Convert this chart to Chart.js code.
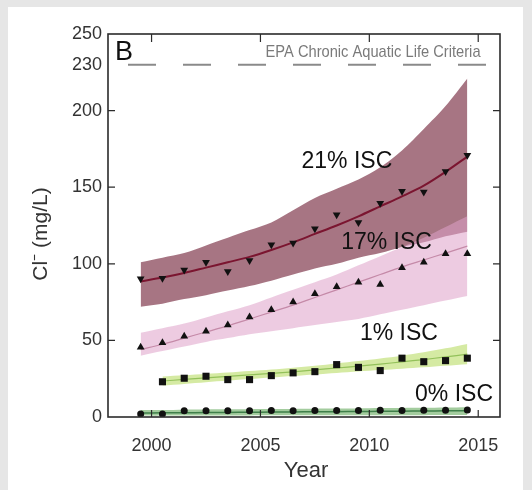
<!DOCTYPE html>
<html lang="en">
<head>
<meta charset="UTF-8">
<title>Cl- trends by ISC</title>
<script src="https://cdn.jsdelivr.net/npm/chart.js"></script>
<style>
  html, body { margin: 0; padding: 0; background: #e6e6e6; }
  #panel { position: absolute; left: 8px; top: 7px; width: 515px; height: 483px; background: #fff; }
  canvas { display: block; }
</style>
</head>
<body>
<div id="panel"><canvas id="graphique" width="515" height="483"></canvas></div>
<script>
// years of the samples
const years = [1999.5, 2000.5, 2001.5, 2002.5, 2003.5, 2004.5, 2005.5, 2006.5,
               2007.5, 2008.5, 2009.5, 2010.5, 2011.5, 2012.5, 2013.5, 2014.5];
const years1 = [2000.5, 2001.5, 2002.5, 2003.5, 2004.5, 2005.5, 2006.5,
                2007.5, 2008.5, 2009.5, 2010.5, 2011.5, 2012.5, 2013.5, 2014.5];

// 21% ISC
const isc21 = [90.2, 90.6, 96, 101, 95, 102.2, 112.4, 113.5, 122.9, 132, 127, 139.6, 147.3, 146.8, 160.3, 170.8];
const fit21 = [88.5, 91, 94, 97.5, 101, 104.5, 109, 114, 119.5, 125, 131, 137.5, 144, 151, 160, 170];
const hi21  = [101, 104, 107, 112, 117, 122, 127, 135, 143, 149, 155, 163, 174, 188, 203, 221];
const lo21  = [72, 74, 77, 79.5, 82.5, 85.5, 89, 93, 97, 100, 104, 107, 111, 114, 118, 121];

// 17% ISC
const isc17 = [45.5, 48.4, 52.7, 56, 60, 65.3, 70, 75, 80.4, 85, 88, 86.5, 97.4, 101, 106.5, 106.5];
const fit17 = [44, 47.5, 51.5, 55.5, 59.5, 64, 68.5, 73, 78, 83, 88, 93, 98, 102.5, 107, 111.5];
const hi17  = [55, 58, 61, 65, 69, 73, 78, 83, 88, 93, 99, 105, 111, 117, 124, 131];
const lo17  = [40, 43, 46, 49, 51.5, 54, 56, 58, 60, 62, 64, 67, 70, 73, 76, 79];

// 1% ISC
const isc1 = [23, 25.3, 26.6, 24.4, 24.4, 27, 28.8, 29.6, 34.2, 32.4, 30.3, 38.4, 36.1, 36.8, 38.4];
const fit1 = [23.5, 24.5, 25.5, 26.5, 27.5, 28.5, 29.5, 30.7, 32, 33.2, 34.5, 36, 37.5, 39.2, 41];
const hi1  = [26.5, 27.3, 28.1, 29, 30, 31, 32.2, 33.5, 35, 36.5, 38.2, 40, 42.2, 44.8, 47.7];
const lo1  = [20.5, 21.6, 22.7, 23.8, 24.8, 25.8, 26.8, 27.8, 28.8, 29.7, 30.6, 31.5, 32.4, 33.4, 34.4];

// 0% ISC
const isc0 = [2, 2, 4, 4, 4, 4, 4.2, 4, 4.2, 4.3, 4.2, 4.4, 4.3, 4.4, 4.4, 4.5];
const fit0 = [2.6, 2.7, 2.8, 2.9, 3, 3.1, 3.2, 3.3, 3.4, 3.5, 3.6, 3.7, 3.8, 3.9, 4, 4.1];
const hi0  = [4.5, 4.6, 4.8, 4.9, 5, 5.1, 5.2, 5.3, 5.4, 5.5, 5.6, 5.8, 5.9, 6, 6.2, 6.4];
const lo0  = [0.9, 0.9, 1, 1, 1, 1, 1.1, 1.1, 1.1, 1.1, 1.2, 1.2, 1.2, 1.2, 1.3, 1.3];

// EPA criterion and axes
const epa = 230;
const xTicks = [2000, 2005, 2010, 2015];
const yTicks = [0, 50, 100, 150, 200, 230, 250];
const yMarks = [50, 100, 150, 200];

// labels written on the chart (data coordinates)
const notes = [
  { text: '21% ISC', x: 2008.97, y: 166.8 },
  { text: '17% ISC', x: 2010.79, y: 113.9 },
  { text: '1% ISC',  x: 2011.36, y: 54.2 },
  { text: '0% ISC',  x: 2013.89, y: 14.4 }
];

const pts = (xs, ys) => ys.map((v, i) => ({ x: xs[i], y: v }));

function bord(xs, ys) {
  return { data: pts(xs, ys), borderWidth: 0, pointRadius: 0, fill: false, tension: 0.3, order: 9 };
}
function bande(xs, ys, cible, couleur, ordre) {
  return { data: pts(xs, ys), borderWidth: 0, pointRadius: 0, fill: cible,
           backgroundColor: couleur, tension: 0.3, order: ordre };
}
function courbe(xs, ys, couleur, largeur) {
  return { data: pts(xs, ys), borderColor: couleur, borderWidth: largeur, pointRadius: 0,
           fill: false, tension: 0.3, order: 1 };
}
function points(xs, ys, style, rayon, rotation) {
  return { data: pts(xs, ys), showLine: false, pointStyle: style, pointRadius: rayon,
           pointRotation: rotation || 0, pointBackgroundColor: '#111', pointBorderColor: '#111',
           pointBorderWidth: 0, order: 0 };
}

const datasets = [
  bord(years, lo21),                                            // 0
  bande(years, hi21, 0, '#a77583', 5),                          // 1
  bord(years, lo17),                                            // 2
  bande(years, hi17, 2, 'rgba(222,160,200,0.55)', 4),           // 3
  bord(years1, lo1),                                            // 4
  bande(years1, hi1, 4, '#d5eaa3', 3),                          // 5
  bord(years, lo0),                                             // 6
  bande(years, hi0, 6, '#a3cc9e', 2),                           // 7
  courbe(years, fit21, '#7b1530', 2),
  courbe(years, fit17, '#c58aa8', 1.2),
  courbe(years1, fit1, '#93c15a', 1.2),
  courbe(years, fit0, '#3f7f4a', 1.5),
  points(years, isc21, 'triangle', 4.5, 180),
  points(years, isc17, 'triangle', 4.5),
  points(years1, isc1, 'rect', 5),
  points(years, isc0, 'circle', 3.5),
  { data: [{ x: 1998, y: epa }, { x: 2016, y: epa }], borderColor: '#8a8a8a', borderWidth: 2,
    borderDash: [28, 27], borderDashOffset: 35, pointRadius: 0, fill: false, order: 6 }
];

const habillage = {
  id: 'habillage',
  afterDraw(chart) {
    const { ctx, chartArea: a, scales: { x, y } } = chart;
    ctx.save();
    ctx.strokeStyle = '#2b2b2b';
    ctx.lineWidth = 1.6;
    ctx.strokeRect(a.left, a.top, a.right - a.left, a.bottom - a.top);

    ctx.lineWidth = 1.2;
    ctx.beginPath();
    xTicks.forEach(v => {
      const px = x.getPixelForValue(v);
      ctx.moveTo(px, a.top); ctx.lineTo(px, a.top + 8);
      ctx.moveTo(px, a.bottom); ctx.lineTo(px, a.bottom - 7);
    });
    yMarks.forEach(v => {
      const py = y.getPixelForValue(v);
      ctx.moveTo(a.left, py); ctx.lineTo(a.left + 7, py);
      ctx.moveTo(a.right, py); ctx.lineTo(a.right - 7, py);
    });
    ctx.stroke();

    ctx.fillStyle = '#111';
    ctx.textAlign = 'center';
    ctx.textBaseline = 'middle';
    ctx.font = '23px "Liberation Sans", Arial, sans-serif';
    notes.forEach(n => ctx.fillText(n.text, x.getPixelForValue(n.x), y.getPixelForValue(n.y)));

    ctx.font = '27px "Liberation Sans", Arial, sans-serif';
    ctx.fillText('B', x.getPixelForValue(1998.73), y.getPixelForValue(238));

    ctx.fillStyle = '#7a7a7a';
    ctx.font = '17px "Liberation Sans", Arial, sans-serif';
    ctx.fillText('EPA Chronic Aquatic Life Criteria', x.getPixelForValue(2010.17), y.getPixelForValue(epa + 8), 215);

    ctx.fillStyle = '#333';
    ctx.font = '22px "Liberation Sans", Arial, sans-serif';
    ctx.fillText('Year', 298, 464);

    ctx.translate(33, 227);
    ctx.rotate(-Math.PI / 2);
    ctx.font = '21px "Liberation Sans", Arial, sans-serif';
    ctx.fillText('Cl\u207B (mg/L)', 0, 0);
    ctx.restore();
  }
};

const policeAxe = { family: '"Liberation Sans", Arial, sans-serif', size: 18 };

new Chart(document.getElementById('graphique'), {
  type: 'line',
  data: { datasets: datasets },
  options: {
    responsive: false,
    animation: false,
    devicePixelRatio: 1,
    layout: { padding: { top: 27, right: 23, left: 0, bottom: 0 } },
    plugins: { legend: { display: false }, tooltip: { enabled: false } },
    scales: {
      x: {
        type: 'linear', min: 1998, max: 2016,
        grid: { display: false, drawTicks: false },
        border: { display: false },
        afterBuildTicks: s => { s.ticks = xTicks.map(v => ({ value: v })); },
        afterFit: s => { s.height = 73; },
        ticks: { color: '#333', font: policeAxe, padding: 18, callback: v => String(v) }
      },
      y: {
        min: 0, max: 250,
        grid: { display: false, drawTicks: false },
        border: { display: false },
        afterBuildTicks: s => { s.ticks = yTicks.map(v => ({ value: v })); },
        afterFit: s => { s.width = 100; },
        ticks: { color: '#333', font: policeAxe, padding: 6, callback: v => String(v) }
      }
    }
  },
  plugins: [habillage]
});
</script>
</body>
</html>
